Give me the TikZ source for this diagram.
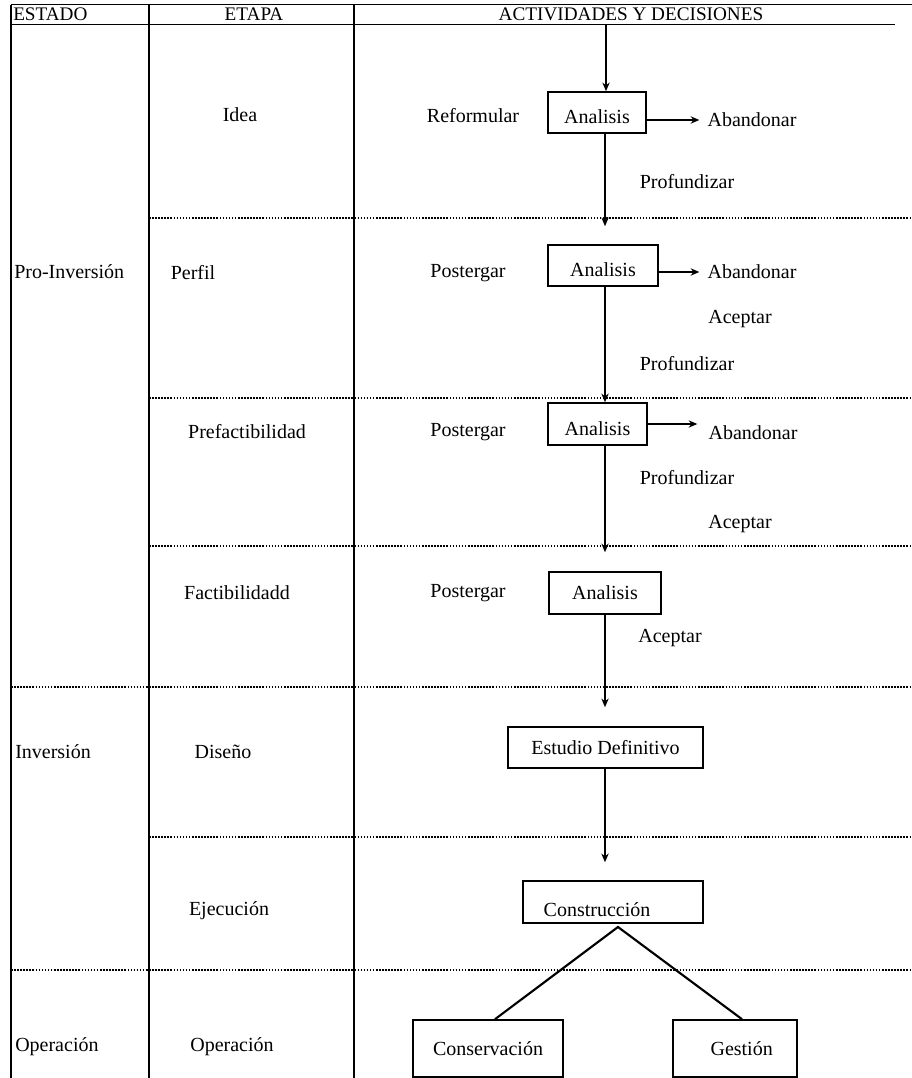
\documentclass[tikz,border=0pt]{standalone}
\usepackage{fontspec}
\setmainfont{Liberation Serif}
\usetikzlibrary{arrows.meta}
\begin{document}
\begin{tikzpicture}[x=0.75pt,y=-0.75pt,
  txt/.style={inner sep=0pt, font=\fontsize{15}{18}\selectfont},
  hdr/.style={inner sep=0pt, font=\fontsize{14.4}{17}\selectfont},
  box/.style={draw, line width=1.2pt, inner sep=0pt, font=\fontsize{15}{18}\selectfont},
  lowtext/.style={text height=17pt, text depth=0pt},
  colline/.style={line width=1.6pt},
  rule/.style={line width=1.2pt},
  sep/.style={line width=0.8pt, dash pattern=on 1.2pt off 1.1pt},
  arr/.style={line width=1pt, -{Stealth[length=6.5pt,width=5.5pt]}},
  tri/.style={line width=1.6pt}
]
\useasboundingbox (0,0) rectangle (912,1078);

% table frame
\draw[rule] (11,4.5) -- (912,4.5);
\draw[rule] (11,24.5) -- (895,24.5);
\draw[colline] (11,4.5) -- (11,1078);
\draw[colline] (149,4.5) -- (149,1078);
\draw[colline] (354,4.5) -- (354,1078);

% separators
\draw[sep] (149,218) -- (912,218);
\draw[sep] (149,398) -- (912,398);
\draw[sep] (149,546) -- (912,546);
\draw[sep] (11,687) -- (912,687);
\draw[sep] (149,837) -- (912,837);
\draw[sep] (11,970) -- (912,970);

% headers
\node[hdr, anchor=west] (hE) at (13,14.5) {ESTADO};
\node[hdr] (hS) at (254,14.5) {ETAPA};
\node[hdr] (hA) at (631,14.5) {ACTIVIDADES Y DECISIONES};

% estado
\node[txt, anchor=west] (e1) at (14,272) {Pro-Inversión};
\node[txt, anchor=west] (e2) at (15,752) {Inversión};
\node[txt, anchor=west] (e3) at (15,1047) {Operación};

% etapas
\node[txt] (s1) at (240,115) {Idea};
\node[txt] (s2) at (193,273) {Perfil};
\node[txt] (s3) at (247,432) {Prefactibilidad};
\node[txt] (s4) at (237,593) {Factibilidadd};
\node[txt] (s5) at (223,752) {Diseño};
\node[txt] (s6) at (229,911) {Ejecución};
\node[txt] (s7) at (232,1047) {Operación};

% side labels
\node[txt] (ref) at (473,116) {Reformular};
\node[txt] (pos2) at (468,273) {Postergar};
\node[txt] (pos3) at (468,432) {Postergar};
\node[txt] (pos4) at (468,593) {Postergar};

\node[txt] (ab1) at (752,120) {Abandonar};
\node[txt] (pr1) at (687,182) {Profundizar};
\node[txt] (ab2) at (752,272) {Abandonar};
\node[txt] (ac2) at (740,319) {Aceptar};
\node[txt] (pr2) at (687,364) {Profundizar};
\node[txt] (ab3) at (753,433) {Abandonar};
\node[txt] (pr3) at (687,478) {Profundizar};
\node[txt] (ac3) at (740,524) {Aceptar};
\node[txt] (ac4) at (670,638) {Aceptar};

% boxes
\node[box, lowtext, minimum width=73.5pt, minimum height=30.75pt] (b1) at (597,112.5) {Analisis};
\node[box, lowtext, minimum width=82.5pt, minimum height=30.75pt] (b2) at (603,265.5) {Analisis};
\node[box, lowtext, minimum width=74.25pt, minimum height=31.5pt] (b3) at (597.5,424) {Analisis};
\node[box, minimum width=84pt, minimum height=31.5pt] (b4) at (605,593) {Analisis};
\node[box, minimum width=146.25pt, minimum height=30.75pt] (est) at (605.5,747.5) {Estudio Definitivo};
\node[box, text height=21pt, text depth=0pt, minimum width=135pt, minimum height=31.5pt] (con) at (613,902) {Construcción\hspace*{24pt}};
\node[box, minimum width=112.5pt, minimum height=42.75pt] (cons) at (488,1048.5) {Conservación};
\node[box, minimum width=93pt, minimum height=42.75pt] (ges) at (735,1048.5) {\hspace*{10pt}Gestión};

% main flow
\coordinate (vx) at (605,0);
\coordinate (h0) at (606,24.5);
\draw[arr] (h0) -- (h0 |- b1.north);
\draw[arr, shorten >=13.5pt] (b1.south -| vx) -- (b2.north -| vx);
\draw[arr] (b2.south -| vx) -- (b3.north -| vx);
\draw[arr, shorten >=14.25pt] (b3.south -| vx) -- (b4.north -| vx);
\draw[arr, shorten >=14.25pt] (b4.south -| vx) -- (est.north -| vx);
\draw[arr, shorten >=13.5pt] (est.south -| vx) -- (con.north -| vx);

% abandon arrows
\draw[arr, shorten >=6pt] (b1.east |- ab1) -- (ab1.west);
\draw[arr, shorten >=6pt] (b2.east |- ab2) -- (ab2.west);
\draw[arr, shorten >=8.25pt] (b3.east) -- (b3.east -| ab3.west);

% branching
\coordinate (apex) at (618,927);
\draw[tri] ([xshift=5.25pt]cons.north) -- (apex) -- ([xshift=5.25pt]ges.north);
\end{tikzpicture}
\end{document}
